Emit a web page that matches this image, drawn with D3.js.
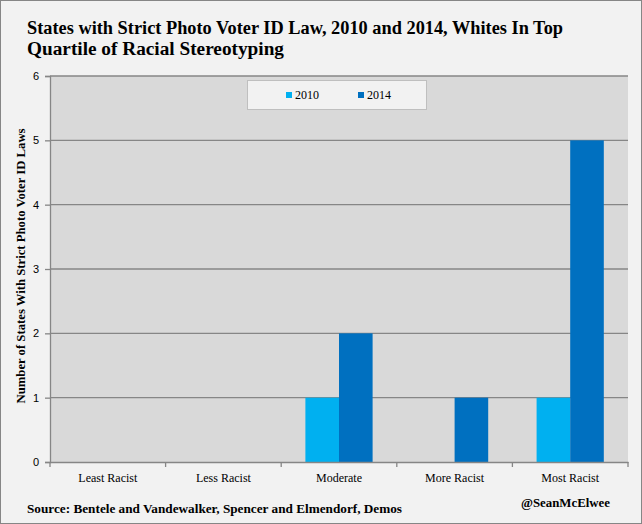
<!DOCTYPE html>
<html>
<head>
<meta charset="utf-8">
<script src="https://cdn.jsdelivr.net/npm/d3@7"></script>
<style>
  body { margin: 0; background: #fff; }
  svg text { font-family: "Liberation Serif", "Times New Roman", serif; fill: #000; }
</style>
</head>
<body>
<div id="chart"></div>
<script>
const categories = ["Least Racist", "Less Racist", "Moderate", "More Racist", "Most Racist"];
const seriesNames = ["2010", "2014"];
const values2010 = [0, 0, 1, 0, 1];
const values2014 = [0, 0, 2, 1, 5];
const yTicks = [0, 1, 2, 3, 4, 5, 6];
const colors = ["#00b0f0", "#0070c0"];

const width = 642, height = 524;
const plot = { left: 50, right: 628, top: 76, bottom: 462 };

const svg = d3.select("#chart").append("svg")
  .attr("width", width)
  .attr("height", height);

// squeeze/stretch a text node to a measured width
function fitWidth(sel, w) {
  sel.attr("textLength", w).attr("lengthAdjust", "spacingAndGlyphs");
}

// outer frame
svg.append("rect")
  .attr("x", 0.5).attr("y", 0.5)
  .attr("width", width - 1).attr("height", height - 1)
  .attr("fill", "#f2f2f2")
  .attr("stroke", "#868686");

// title
const t1 = svg.append("text").attr("x", 27).attr("y", 34)
  .attr("font-weight", "bold").attr("font-size", 18.5)
  .text("States with Strict Photo Voter ID Law, 2010 and 2014, Whites In Top");
const t2 = svg.append("text").attr("x", 27).attr("y", 55)
  .attr("font-weight", "bold").attr("font-size", 18.5)
  .text("Quartile of Racial Stereotyping");
fitWidth(t1, 536);
fitWidth(t2, 257);

const x = d3.scaleBand().domain(categories).range([plot.left, plot.right]);
const xInner = d3.scaleBand().domain(seriesNames)
  .range([0, x.bandwidth()]).paddingOuter(0.72).paddingInner(0);
const y = d3.scaleLinear().domain([0, 6]).range([plot.bottom, plot.top]);

// plot background
svg.append("rect")
  .attr("x", plot.left).attr("y", plot.top)
  .attr("width", plot.right - plot.left).attr("height", plot.bottom - plot.top)
  .attr("fill", "#d9d9d9");

// gridlines
svg.append("g").selectAll("line")
  .data(yTicks.filter(d => d > 0))
  .join("line")
  .attr("x1", plot.left).attr("x2", plot.right)
  .attr("y1", d => y(d)).attr("y2", d => y(d))
  .attr("stroke", "#868686").attr("stroke-width", 1.3);

// bars
const rows = categories.map((c, i) => ({ cat: c, vals: [values2010[i], values2014[i]] }));
const groups = svg.append("g").selectAll("g")
  .data(rows)
  .join("g")
  .attr("transform", d => `translate(${x(d.cat)},0)`);
groups.selectAll("rect")
  .data(d => d.vals.map((v, j) => ({ key: seriesNames[j], v, j })))
  .join("rect")
  .attr("x", d => xInner(d.key))
  .attr("width", xInner.bandwidth())
  .attr("y", d => y(d.v))
  .attr("height", d => y(0) - y(d.v))
  .attr("fill", d => colors[d.j]);

// y axis
const yAxis = svg.append("g")
  .attr("transform", `translate(${plot.left},0)`)
  .call(d3.axisLeft(y).tickValues(yTicks).tickFormat(d3.format("d")).tickSize(5).tickPadding(6));
yAxis.select(".domain").attr("stroke", "#868686").attr("stroke-width", 1.3);
yAxis.selectAll(".tick line").attr("stroke", "#868686").attr("stroke-width", 1.3);
yAxis.selectAll(".tick text").attr("font-size", 11)
  .style("font-family", "'Liberation Sans', Arial, sans-serif").attr("fill", "#000");

// x axis
const xAxis = svg.append("g")
  .attr("transform", `translate(0,${plot.bottom})`)
  .call(d3.axisBottom(x).tickSize(0).tickPadding(11));
xAxis.select(".domain").attr("stroke", "#868686").attr("stroke-width", 1.3);
xAxis.selectAll(".tick text").attr("font-size", 12).attr("fill", "#000");
// category boundary ticks
svg.append("g").selectAll("line")
  .data(d3.range(categories.length + 1))
  .join("line")
  .attr("x1", i => plot.left + i * x.step())
  .attr("x2", i => plot.left + i * x.step())
  .attr("y1", plot.bottom).attr("y2", plot.bottom + 5)
  .attr("stroke", "#868686").attr("stroke-width", 1.3);

// y axis title
const yTitle = svg.append("text")
  .attr("transform", "translate(25,266) rotate(-90)")
  .attr("text-anchor", "middle")
  .attr("font-weight", "bold").attr("font-size", 12)
  .text("Number of States With Strict Photo Voter ID Laws");
fitWidth(yTitle, 275);

// legend
const legend = svg.append("g");
legend.append("rect")
  .attr("x", 247.5).attr("y", 80.5).attr("width", 179).attr("height", 29)
  .attr("fill", "#f2f2f2").attr("stroke", "#bfbfbf");
const legendX = [286, 358];
seriesNames.forEach((s, i) => {
  legend.append("rect").attr("x", legendX[i]).attr("y", 92).attr("width", 6).attr("height", 6).attr("fill", colors[i]);
  legend.append("text").attr("x", legendX[i] + 9).attr("y", 99).attr("font-size", 12).text(s);
});

// footer
const src = svg.append("text").attr("x", 27).attr("y", 513)
  .attr("font-weight", "bold").attr("font-size", 12)
  .text("Source: Bentele and Vandewalker, Spencer and Elmendorf, Demos");
fitWidth(src, 375);
const handle = svg.append("text").attr("x", 521).attr("y", 507)
  .attr("font-weight", "bold").attr("font-size", 12)
  .text("@SeanMcElwee");
fitWidth(handle, 89);
</script>
</body>
</html>
